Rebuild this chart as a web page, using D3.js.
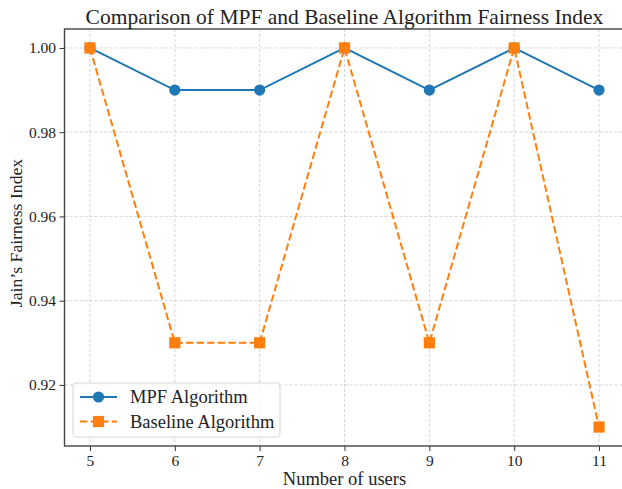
<!DOCTYPE html>
<html>
<head>
<meta charset="utf-8">
<script src="https://cdn.jsdelivr.net/npm/d3@7"></script>
<style>
  body { margin: 0; background: #fff; }
  svg { display: block; }
</style>
</head>
<body>
<div class="container"></div>
<script>
const users = [5, 6, 7, 8, 9, 10, 11]
const mpf = [1.00, 0.99, 0.99, 1.00, 0.99, 1.00, 0.99]
const baseline = [1.00, 0.93, 0.93, 1.00, 0.93, 1.00, 0.91]
const yTicks = [0.92, 0.94, 0.96, 0.98, 1.00]

const width = 622
const height = 489
const plotLeft = 64.5, plotRight = 624.5, plotTop = 29, plotBottom = 446
const serif = '"Liberation Serif", "Times New Roman", Times, serif'

const svg = d3.select(".container")
    .append("svg")
    .attr("width", width)
    .attr("height", height)
    .style("font-family", serif)

const x = d3.scaleLinear().domain([4.7, 11.3]).range([plotLeft, plotRight])
const y = d3.scaleLinear().domain([0.9055, 1.0045]).range([plotBottom, plotTop])

// grid
const grid = svg.append("g")
    .attr("stroke", "#cccccc")
    .attr("stroke-width", 0.8)
    .attr("stroke-dasharray", "3,2")
grid.selectAll(".gx")
    .data(users)
    .join("line")
    .attr("x1", d => x(d)).attr("x2", d => x(d))
    .attr("y1", plotTop).attr("y2", plotBottom)
grid.selectAll(".gy")
    .data(yTicks)
    .join("line")
    .attr("x1", plotLeft).attr("x2", plotRight)
    .attr("y1", d => y(d)).attr("y2", d => y(d))

// axes
const xAxis = svg.append("g")
    .attr("transform", `translate(0,${plotBottom})`)
    .call(d3.axisBottom(x).tickValues(users).tickSize(5).tickPadding(3.5).tickFormat(d3.format("d")))
const yAxis = svg.append("g")
    .attr("transform", `translate(${plotLeft},0)`)
    .call(d3.axisLeft(y).tickValues(yTicks).tickSize(5).tickPadding(3.5).tickFormat(d3.format(".2f")))

for (const ax of [xAxis, yAxis]) {
    ax.attr("font-family", null).attr("font-size", null)
    ax.select(".domain").remove()
    ax.selectAll(".tick line").attr("stroke", "#333").attr("stroke-width", 1)
    ax.selectAll(".tick text")
        .style("font-family", serif)
        .style("font-size", "15.5px")
        .attr("fill", "#222")
}

// spines
svg.append("rect")
    .attr("x", plotLeft).attr("y", plotTop)
    .attr("width", plotRight - plotLeft).attr("height", plotBottom - plotTop)
    .attr("fill", "none")
    .attr("stroke", "#444")
    .attr("stroke-width", 1.4)

// lines
const line = (vals) => d3.line().x((d, i) => x(users[i])).y(d => y(d))(vals)

svg.append("path")
    .attr("d", line(mpf))
    .attr("fill", "none")
    .attr("stroke", "#1f77b4")
    .attr("stroke-width", 2)

svg.append("path")
    .attr("d", line(baseline))
    .attr("fill", "none")
    .attr("stroke", "#ff7f0e")
    .attr("stroke-width", 2)
    .attr("stroke-dasharray", "7.4,3.2")

svg.append("g")
    .selectAll("circle")
    .data(mpf)
    .join("circle")
    .attr("cx", (d, i) => x(users[i]))
    .attr("cy", d => y(d))
    .attr("r", 5.6)
    .attr("fill", "#1f77b4")

svg.append("g")
    .selectAll("rect")
    .data(baseline)
    .join("rect")
    .attr("x", (d, i) => x(users[i]) - 5.6)
    .attr("y", d => y(d) - 5.6)
    .attr("width", 11.2)
    .attr("height", 11.2)
    .attr("fill", "#ff7f0e")

// title and labels
svg.append("text")
    .attr("x", (plotLeft + plotRight) / 2)
    .attr("y", 24)
    .attr("text-anchor", "middle")
    .style("font-family", serif)
    .style("font-size", "21.5px")
    .attr("fill", "#222")
    .text("Comparison of MPF and Baseline Algorithm Fairness Index")

svg.append("text")
    .attr("x", (plotLeft + plotRight) / 2)
    .attr("y", 485)
    .attr("text-anchor", "middle")
    .style("font-family", serif)
    .style("font-size", "18.5px")
    .attr("fill", "#222")
    .text("Number of users")

svg.append("text")
    .attr("transform", `translate(22,233) rotate(-90)`)
    .attr("text-anchor", "middle")
    .style("font-family", serif)
    .style("font-size", "17.7px")
    .attr("fill", "#222")
    .text("Jain\u2019s Fairness Index")

// legend
const legend = svg.append("g")
legend.append("rect")
    .attr("x", 73).attr("y", 383)
    .attr("width", 207).attr("height", 54)
    .attr("rx", 3)
    .attr("fill", "rgba(255,255,255,0.8)")
    .attr("stroke", "#d6d6d6")
    .attr("stroke-width", 1)

const entries = [
    { name: "MPF Algorithm", color: "#1f77b4", dash: null, shape: "circle" },
    { name: "Baseline Algorithm", color: "#ff7f0e", dash: "7.4,3.2", shape: "square" }
]
entries.forEach((e, i) => {
    const cy = 397 + i * 24.5
    legend.append("line")
        .attr("x1", 80).attr("x2", 117)
        .attr("y1", cy).attr("y2", cy)
        .attr("stroke", e.color)
        .attr("stroke-width", 2)
        .attr("stroke-dasharray", e.dash)
    if (e.shape === "circle") {
        legend.append("circle").attr("cx", 98.5).attr("cy", cy).attr("r", 5.6).attr("fill", e.color)
    } else {
        legend.append("rect").attr("x", 98.5 - 5.6).attr("y", cy - 5.6)
            .attr("width", 11.2).attr("height", 11.2).attr("fill", e.color)
    }
    legend.append("text")
        .attr("x", 130).attr("y", cy + 6)
        .style("font-family", serif)
        .style("font-size", "18.5px")
        .attr("fill", "#222")
        .text(e.name)
})
</script>
</body>
</html>
